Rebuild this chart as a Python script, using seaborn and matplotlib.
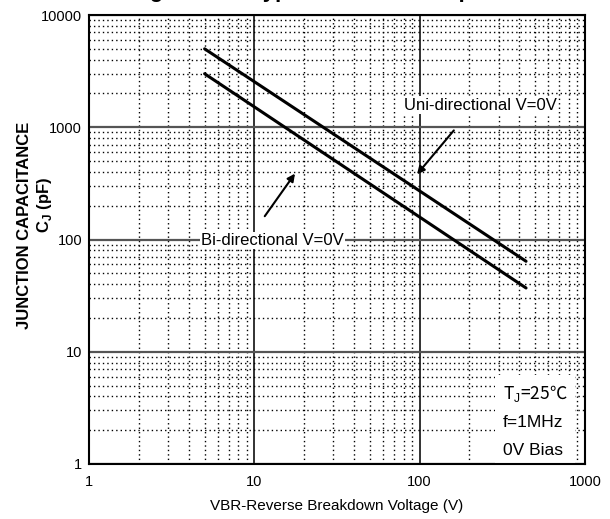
"""
plot.py
Typical junction capacitance vs breakdown voltage (log-log)
"""

import pandas as pd
import matplotlib
matplotlib.use('Agg')
import matplotlib.pyplot as plt
from matplotlib.patches import Rectangle
from matplotlib.ticker import LogLocator, FixedLocator, NullFormatter
import seaborn as sns

# Data
vbr_volts = [5, 440]
uni_cap_pf = [5000, 64]
bi_cap_pf = [3000, 37]
x_ticks = [1, 10, 100, 1000]
y_ticks = [1, 10, 100, 1000, 10000]
conditions = ['T$_{\\rm J}$=25\u2103', 'f=1MHz', '0V Bias']

sns.set_style('white')
plt.rcParams['font.family'] = ['Liberation Sans', 'DejaVu Sans']
plt.rcParams['mathtext.fontset'] = 'custom'
plt.rcParams['mathtext.rm'] = 'Liberation Sans'
plt.rcParams['mathtext.bf'] = 'Liberation Sans:bold'
for k in ['text.color', 'axes.labelcolor', 'xtick.color', 'ytick.color']:
    plt.rcParams[k] = 'black'

df = pd.concat([
    pd.DataFrame({'V': vbr_volts, 'C': uni_cap_pf, 'type': 'Uni'}),
    pd.DataFrame({'V': vbr_volts, 'C': bi_cap_pf, 'type': 'Bi'}),
])

fig = plt.figure(figsize=(6.10, 5.19), dpi=100)
ax = fig.add_axes([0.146, 0.106, 0.813, 0.865])

sns.lineplot(data=df, x='V', y='C', units='type', estimator=None,
             color='black', lw=2.2, ax=ax, zorder=3)

ax.set_xscale('log')
ax.set_yscale('log')
ax.set_xlim(1, 1000)
ax.set_ylim(1, 10000)
ax.xaxis.set_major_locator(FixedLocator(x_ticks))
ax.yaxis.set_major_locator(FixedLocator(y_ticks))
ax.set_xticklabels([str(t) for t in x_ticks])
ax.set_yticklabels([str(t) for t in y_ticks])
ax.xaxis.set_minor_locator(LogLocator(base=10, subs=range(2, 10)))
ax.yaxis.set_minor_locator(LogLocator(base=10, subs=range(2, 10)))
ax.xaxis.set_minor_formatter(NullFormatter())
ax.yaxis.set_minor_formatter(NullFormatter())
ax.tick_params(which='both', length=0, labelsize=10.5)
ax.tick_params(axis='x', pad=8)
ax.tick_params(axis='y', pad=5)

ax.grid(which='major', axis='x', color='#222222', lw=1.3, ls='-')
ax.grid(which='major', axis='y', color='#555555', lw=1.6, ls='-')
ax.grid(which='minor', color='black', lw=1.0, ls=(0, (1, 2.2)))
for s in ax.spines.values():
    s.set_color('black')
    s.set_linewidth(1.5)

ax.set_xlabel('VBR-Reverse Breakdown Voltage (V)', fontsize=11, labelpad=7)
ax.set_ylabel('')

fig.text(0.040, 0.565, 'JUNCTION CAPACITANCE', rotation=90, ha='center', va='center',
         fontsize=12, fontweight='bold')
fig.text(0.073, 0.605, 'C$_{\\bf J}$ (pF)', rotation=90, ha='center', va='center',
         fontsize=12, fontweight='bold')

# Curve labels with arrows
box = dict(facecolor='white', edgecolor='none', pad=1)
ax.text(234, 1570, 'Uni-directional V=0V', ha='center', va='center', fontsize=12,
        bbox=box, zorder=4)
ax.annotate('', xy=(94, 365), xytext=(165, 980),
            arrowprops=dict(arrowstyle='-|>', color='black', lw=1.5,
                            mutation_scale=11), zorder=4)
ax.text(12.9, 98, 'Bi-directional V=0V', ha='center', va='center', fontsize=12,
        bbox=box, zorder=4)
ax.annotate('', xy=(18, 405), xytext=(11.3, 154),
            arrowprops=dict(arrowstyle='-|>', color='black', lw=1.5,
                            mutation_scale=11), zorder=4)

# Test conditions in a white box at the lower right
ax.add_patch(Rectangle((0.819, 0.0), 0.161, 0.198, transform=ax.transAxes,
                       facecolor='white', edgecolor='none', zorder=1))
cond_y = [0.158, 0.0935, 0.029]
for i, (txt, yy) in enumerate(zip(conditions, cond_y)):
    fam = ['Noto Sans CJK SC'] if i == 0 else ['Liberation Sans']
    ax.text(0.835, yy, txt, transform=ax.transAxes, ha='left', va='center',
            fontsize=12.5, family=fam, zorder=4)

# Title, mostly cut off by the top edge in the reference
fig.text(0.567, 1.006, 'Figure 3 \u2014 Typical Junction Capacitance', ha='center',
         va='baseline', fontsize=16, fontweight='bold')

fig.savefig('out.png', dpi=100)
